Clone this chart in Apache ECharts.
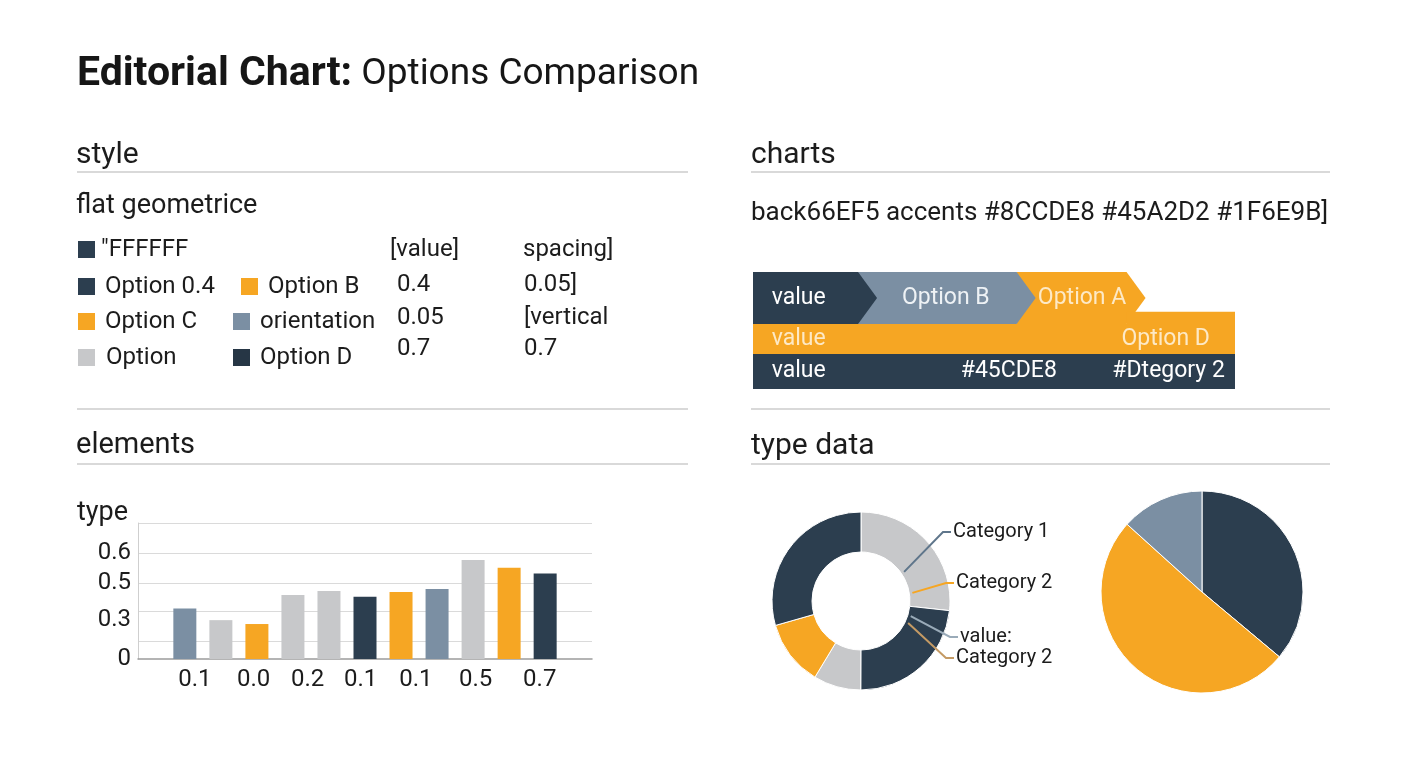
<!DOCTYPE html>
<html><head><meta charset="utf-8">
<script src="https://cdn.jsdelivr.net/npm/echarts@6/dist/echarts.min.js"></script>
<style>html,body{margin:0;padding:0;background:#fff}#c{width:1408px;height:768px}</style>
</head><body><div id="c"></div>
<script>
// ================= DATA =================
const titleBold = 'Editorial Chart:';
const titleRest = 'Options Comparison';
const sectionTitles = ['style', 'charts', 'elements', 'type data'];
const styleSubtitle = 'flat geometrice';
const chartsSubtitle = 'back66EF5 accents #8CCDE8 #45A2D2 #1F6E9B]';
const legendLabels = ['\u2033FFFFFF', 'Option 0.4', 'Option B', 'Option C', 'orientation', 'Option', 'Option D'];
const valueColumn = ['[value]', '0.4', '0.05', '0.7'];
const spacingColumn = ['spacing]', '0.05]', '[vertical', '0.7'];

const barAxisName = 'type';
const barValues = [0.26, 0.20, 0.18, 0.33, 0.35, 0.32, 0.345, 0.36, 0.51, 0.47, 0.44];
const yGridValues = [0.09, 0.245, 0.39, 0.546, 0.7];
const yTickValues = [0, 0.2, 0.39, 0.546];
const yTickLabels = ['0', '0.3', '0.5', '0.6'];
const xTickValues = [0.28, 1.91, 3.41, 4.88, 6.41, 8.07, 9.85];
const xTickLabels = ['0.1', '0.0', '0.2', '0.1', '0.1', '0.5', '0.7'];

const ribbonRows = [0, 0, 0, 1, 2];
const ribbonStarts = [54.7, 21.8, 0, 0, 0];
const ribbonEnds = [77.5, 54.7, 21.8, 100, 100];
const ribbonTexts = ['value', 'Option B', 'Option A', 'value', 'Option D', 'value', '#45CDE8', '#Dtegory 2'];
const ribbonTextRows = [0, 0, 0, 1, 1, 2, 2, 2];

const donutValues = [26.7, 23.3, 8.6, 11.9, 29.4];
const calloutLabels = ['Category 1', 'Category 2', 'value:', 'Category 2'];
const calloutAngles = [56, 81, 107, 115];
const pieValues = [36.1, 50.6, 13.3];

// ================= STYLE =================
const C = { navy: '#2c3e4f', orange: '#f6a623', slate: '#7b8fa3', gray: '#c7c8ca', text: '#1c1c1c', rule: '#d9d9d9', navyD: '#263645' };
const FONT = 'Roboto';
const BAR_COLORS = [C.slate, C.gray, C.orange, C.gray, C.gray, C.navy, C.orange, C.slate, C.gray, C.orange, C.navy];
const LEGEND_COLORS = [C.navy, C.navy, C.orange, C.orange, C.slate, C.gray, C.navyD];
const LEGEND_POS = [[78, 101, 250], [78, 105, 287], [241, 268, 287], [78, 105, 322], [233, 260, 322], [78, 106, 358], [233, 260, 358]];
const COL_ROWS_Y = [250, 285, 318, 349];
const VALUE_COL_X = [390, 397, 397, 397];
const SPACING_COL_X = [523, 524, 524, 524];
const RIBBON_SEG_COLORS = [C.orange, C.slate, C.navy, C.orange, C.navy];
const RIBBON_ROW_EDGES = [0, 44.4, 70.1, 100];
const RIBBON_STEP = { x: 77.5, top: 33.9 };
const RIBBON_TIP = 19;
const RIBBON_TEXT_X = [3.9, 30.9, 59.1, 3.9, 94.8, 3.9, 43.1, 97.9];
const RIBBON_TEXT_ALIGN = ['left', 'left', 'left', 'left', 'right', 'left', 'left', 'right'];
const RIBBON_TEXT_COLORS = ['#ffffff', '#eef2f5', '#fde9c6', '#fde9c6', '#fde9c6', '#ffffff', '#ffffff', '#ffffff'];
const DONUT_COLORS = [C.gray, C.navy, C.gray, C.orange, C.navy];
const DONUT_CENTER = [861, 601];
const CALLOUT_R = 52;
const CALLOUT_OFFSETS = [[92, -69], [95, -18], [99, 36], [95, 57]];
const CALLOUT_COLORS = ['#5f768b', '#f6a623', '#9aabb9', '#c49a64'];
const PIE_COLORS = [C.navy, C.orange, C.slate];

// ================= HELPERS =================
function T(x, y, text, size, extra) {
  return { type: 'text', x: x, y: y, silent: true, z: 10,
    style: Object.assign({ text: text, fontSize: size, fontFamily: FONT, fill: C.text, verticalAlign: 'middle', align: 'left' }, extra || {}) };
}
function HL(x1, x2, y) {
  return { type: 'line', silent: true, shape: { x1: x1, y1: y, x2: x2, y2: y }, style: { stroke: C.rule, lineWidth: 2 } };
}
function SQ(x, y, color) {
  return { type: 'rect', silent: true, shape: { x: x, y: y - 9, width: 17, height: 17 }, style: { fill: color } };
}
function nearestLabel(vals, labels, v) {
  let best = 0;
  for (let i = 1; i < vals.length; i++) if (Math.abs(vals[i] - v) < Math.abs(vals[best] - v)) best = i;
  return labels[best];
}

// ================= GRAPHIC TEXT =================
const graphic = [];
graphic.push({ type: 'text', x: 77, y: 75, silent: true,
  style: { text: '{b|' + titleBold + '}{r| ' + titleRest + '}', verticalAlign: 'middle', align: 'left',
    rich: { b: { fontSize: 41, fontWeight: 'bold', fontFamily: FONT, fill: '#161616' },
            r: { fontSize: 37, fontFamily: FONT, fill: '#161616' } } } });
graphic.push(T(76, 155, sectionTitles[0], 30));
graphic.push(T(751, 155, sectionTitles[1], 30));
graphic.push(HL(77, 688, 172), HL(751, 1330, 172));
graphic.push(T(76, 206, styleSubtitle, 27));
graphic.push(T(751, 213, chartsSubtitle, 26));
legendLabels.forEach((lab, i) => {
  const p = LEGEND_POS[i];
  graphic.push(SQ(p[0], p[2], LEGEND_COLORS[i]));
  graphic.push(T(p[1], p[2], lab, 24));
});
valueColumn.forEach((t, i) => graphic.push(T(VALUE_COL_X[i], COL_ROWS_Y[i], t, 24)));
spacingColumn.forEach((t, i) => graphic.push(T(SPACING_COL_X[i], COL_ROWS_Y[i], t, 24)));
graphic.push(HL(77, 688, 409), HL(751, 1330, 409));
graphic.push(T(76, 446, sectionTitles[2], 29));
graphic.push(T(751, 446, sectionTitles[3], 30));
graphic.push(HL(77, 688, 464), HL(751, 1330, 464));
graphic.push(T(77, 513, barAxisName, 27));

// ================= CALLOUT DATA =================
const calloutData = [];
let prev = 0;
calloutAngles.forEach((a, i) => {
  calloutData.push({ value: a - 1 - prev, name: 'f' + i, itemStyle: { color: 'rgba(0,0,0,0)' }, label: { show: false }, labelLine: { show: false } });
  calloutData.push({ value: 2, name: calloutLabels[i], itemStyle: { color: 'rgba(0,0,0,0)' },
    label: { show: true, formatter: calloutLabels[i] },
    labelLine: { show: true, lineStyle: { color: CALLOUT_COLORS[i], width: 2 } } });
  prev = a + 1;
});
calloutData.push({ value: 360 - prev, name: 'fe', itemStyle: { color: 'rgba(0,0,0,0)' }, label: { show: false }, labelLine: { show: false } });

// ================= CHART =================
const chart = echarts.init(document.getElementById('c'), null, { renderer: 'canvas' });
const option = {
  backgroundColor: '#ffffff',
  animation: false,
  textStyle: { fontFamily: FONT },
  graphic: graphic,
  grid: [
    { left: 138, top: 523, width: 454, height: 136 },
    { left: 753, top: 272, width: 482, height: 117 }
  ],
  xAxis: [
    { gridIndex: 0, type: 'value', min: -1.3, max: 11.3,
      axisLine: { show: true, onZero: false, lineStyle: { color: '#9c9c9c', width: 1.5 } },
      axisTick: { show: false }, splitLine: { show: false },
      axisLabel: { customValues: xTickValues, formatter: v => nearestLabel(xTickValues, xTickLabels, v),
        fontSize: 24, color: '#1c1c1c', margin: 9, fontFamily: FONT } },
    { gridIndex: 1, type: 'value', min: 0, max: 100, show: false }
  ],
  yAxis: [
    { gridIndex: 0, type: 'value', min: 0, max: 0.7,
      axisLine: { show: true, onZero: false, lineStyle: { color: '#cfcfcf', width: 1 } },
      axisTick: { show: false, customValues: yGridValues },
      splitLine: { show: true, customValues: yGridValues, lineStyle: { color: '#dadada', width: 1 } },
      axisLabel: { customValues: yTickValues, formatter: v => nearestLabel(yTickValues, yTickLabels, v),
        fontSize: 24, color: '#1c1c1c', margin: 7, fontFamily: FONT } },
    { gridIndex: 1, type: 'value', min: 0, max: 100, inverse: true, show: false }
  ],
  series: [
    { type: 'bar', xAxisIndex: 0, yAxisIndex: 0, barWidth: 23, silent: true,
      data: barValues.map((v, i) => ({ value: [i, v], itemStyle: { color: BAR_COLORS[i] } })) },
    { type: 'custom', xAxisIndex: 1, yAxisIndex: 1, silent: true, clip: false,
      data: ribbonRows.map((r, i) => [ribbonStarts[i], ribbonEnds[i], r, i]),
      renderItem: function (params, api) {
        const s = api.value(0), e = api.value(1), row = api.value(2), idx = api.value(3);
        const tl = api.coord([s, RIBBON_ROW_EDGES[row]]);
        const br = api.coord([e, RIBBON_ROW_EDGES[row + 1]]);
        const ym = (tl[1] + br[1]) / 2;
        let pts;
        if (row === 0) {
          pts = [[tl[0], tl[1]], [br[0], tl[1]], [br[0] + RIBBON_TIP, ym], [br[0], br[1]], [tl[0], br[1]]];
        } else if (row === 1) {
          const st = api.coord([RIBBON_STEP.x, RIBBON_STEP.top]);
          pts = [[tl[0], tl[1]], [st[0], tl[1]], [st[0], st[1]], [br[0], st[1]], [br[0], br[1]], [tl[0], br[1]]];
        } else {
          pts = [[tl[0], tl[1]], [br[0], tl[1]], [br[0], br[1]], [tl[0], br[1]]];
        }
        return { type: 'polygon', shape: { points: pts }, style: { fill: RIBBON_SEG_COLORS[idx] } };
      } },
    { type: 'custom', xAxisIndex: 1, yAxisIndex: 1, silent: true, clip: false, z: 5,
      data: ribbonTexts.map((t, i) => [RIBBON_TEXT_X[i], ribbonTextRows[i], i]),
      renderItem: function (params, api) {
        const x = api.value(0), row = api.value(1), idx = api.value(2);
        const p = api.coord([x, (RIBBON_ROW_EDGES[row] + RIBBON_ROW_EDGES[row + 1]) / 2]);
        return { type: 'text', x: p[0], y: p[1],
          style: { text: ribbonTexts[idx], fill: RIBBON_TEXT_COLORS[idx], fontSize: 23, fontFamily: FONT,
            align: RIBBON_TEXT_ALIGN[idx], verticalAlign: 'middle' } };
      } },
    { type: 'pie', center: DONUT_CENTER, radius: [49, 89], startAngle: 90, clockwise: true, silent: true,
      label: { show: false }, labelLine: { show: false },
      itemStyle: { borderColor: '#ffffff', borderWidth: 1 },
      data: donutValues.map((v, i) => ({ value: v, name: 'd' + i, itemStyle: { color: DONUT_COLORS[i] } })) },
    { type: 'pie', center: DONUT_CENTER, radius: [0, 50], startAngle: 90, clockwise: true, silent: true, z: 6,
      avoidLabelOverlap: false,
      label: { position: 'outside', fontSize: 20, color: '#1c1c1c', fontFamily: FONT },
      data: calloutData,
      labelLayout: function (params) {
        const di = params.dataIndex;
        if (di % 2 !== 1) return {};
        const i = (di - 1) / 2;
        const a = calloutAngles[i] * Math.PI / 180;
        const sx = DONUT_CENTER[0] + CALLOUT_R * Math.sin(a);
        const sy = DONUT_CENTER[1] - CALLOUT_R * Math.cos(a);
        const x = DONUT_CENTER[0] + CALLOUT_OFFSETS[i][0];
        const y = DONUT_CENTER[1] + CALLOUT_OFFSETS[i][1];
        return { x: x, y: y, align: 'left', verticalAlign: 'middle',
          labelLinePoints: [[sx, sy], [x - 10, y], [x - 2, y]] };
      } },
    { type: 'pie', center: [1202, 592], radius: 101, startAngle: 90, clockwise: true, silent: true,
      label: { show: false }, labelLine: { show: false },
      itemStyle: { borderColor: '#ffffff', borderWidth: 1 },
      data: pieValues.map((v, i) => ({ value: v, name: 'p' + i, itemStyle: { color: PIE_COLORS[i] } })) }
  ]
};
chart.setOption(option);
</script>
</body></html>
